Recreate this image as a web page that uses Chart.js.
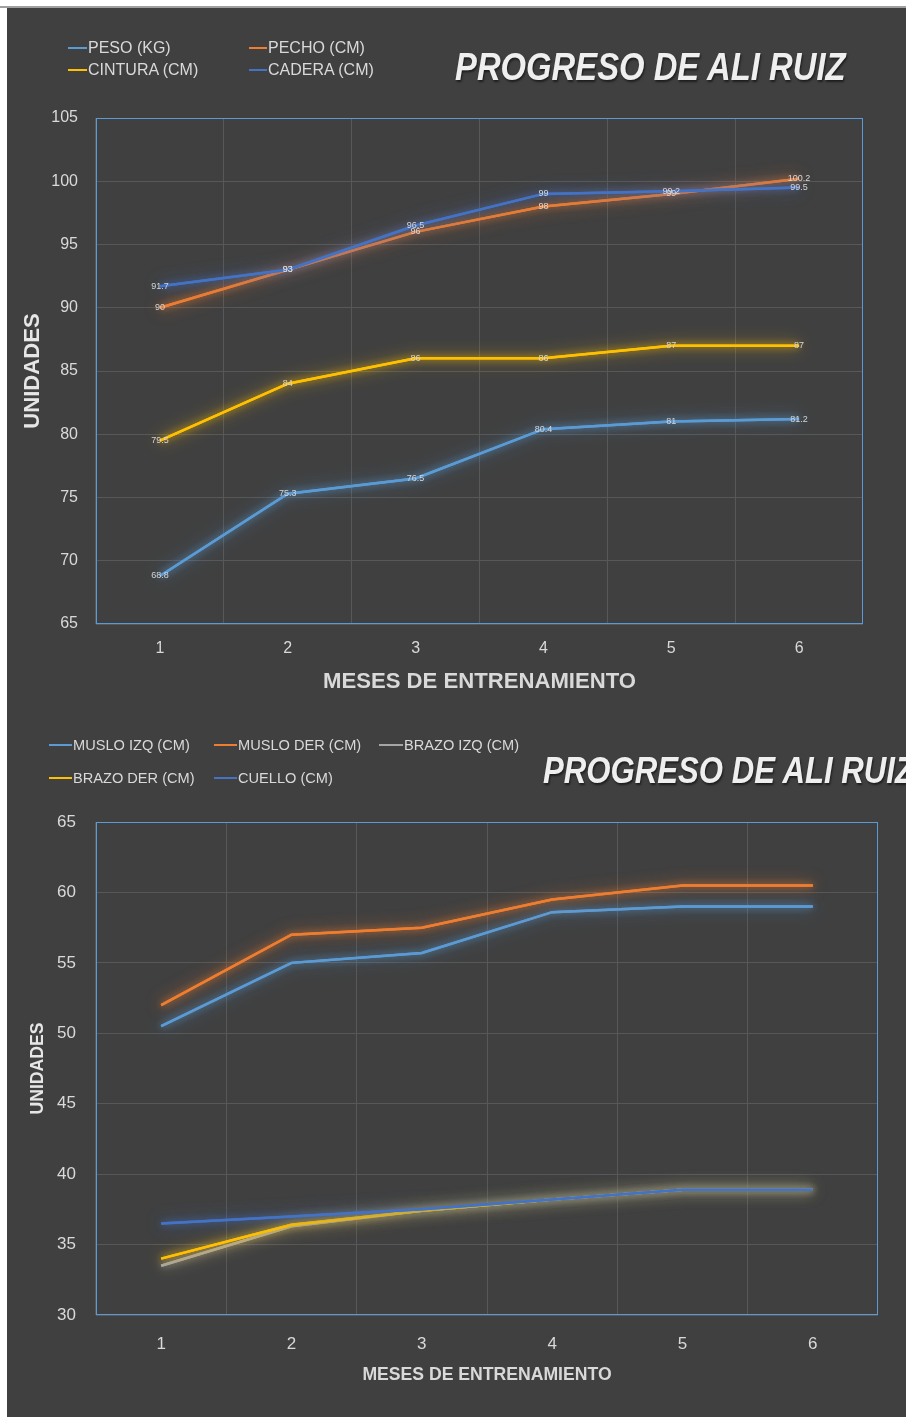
<!DOCTYPE html>
<html><head><meta charset="utf-8">
<script src="https://cdn.jsdelivr.net/npm/chart.js@4.4.0/dist/chart.umd.min.js"></script>
<style>
html,body{margin:0;padding:0;background:#fff;width:906px;height:1418px;overflow:hidden;}
.topstrip{position:absolute;left:0;top:0;width:906px;height:8px;background:#fff;border-bottom:2px solid #a0a0a0;box-sizing:border-box}
.panel{position:absolute;left:7px;width:899px;background:#404040;overflow:hidden}
#p1{top:8px;height:697px}
#p2{top:705px;height:712px}
canvas{position:absolute;left:0;top:0}
.item{position:absolute;white-space:nowrap;font-family:"Liberation Sans",Arial,sans-serif;color:#d9d9d9;line-height:20px;height:20px}
.item i{display:inline-block;width:19px;height:2px;vertical-align:middle;margin-right:1px;margin-top:-2px}
.title{position:absolute;white-space:nowrap;font-family:"Liberation Sans Narrow","Liberation Sans",Arial,sans-serif;font-weight:bold;font-style:italic;color:#efefef;text-shadow:1px 2px 2px rgba(0,0,0,0.55);line-height:1;transform-origin:0 50%}
</style>
</head><body>
<div class="topstrip"></div>
<div class="panel" id="p1">
  <canvas id="c1" width="899" height="697"></canvas>
  <div id="leg1"></div>
  <div class="title" id="t1">PROGRESO DE ALI RUIZ</div>
</div>
<div class="panel" id="p2">
  <canvas id="c2" width="899" height="712"></canvas>
  <div id="leg2"></div>
  <div class="title" id="t2">PROGRESO DE ALI RUIZ</div>
</div>
<script>
// ---- data ----
const months = ['1','2','3','4','5','6'];
const yTicks1 = [65,70,75,80,85,90,95,100,105];
const yTicks2 = [30,35,40,45,50,55,60,65];

const peso    = [68.8, 75.3, 76.5, 80.4, 81, 81.2];
const pecho   = [90, 93, 96, 98, 99, 100.2];
const cintura = [79.5, 84, 86, 86, 87, 87];
const cadera  = [91.7, 93, 96.5, 99, 99.2, 99.5];

const musloIzq = [50.5, 55, 55.7, 58.6, 59, 59];
const musloDer = [52, 57, 57.5, 59.5, 60.5, 60.5];
const brazoIzq = [33.5, 36.3, 37.4, 38.2, 38.9, 38.9];
const brazoDer = [34, 36.4, 37.4, 38.2, 38.9, 38.9];
const cuello   = [36.5, 37, 37.5, 38.2, 38.9, 38.9];

const names1 = ['PESO (KG)','PECHO (CM)','CINTURA (CM)','CADERA (CM)'];
const names2 = ['MUSLO IZQ (CM)','MUSLO DER (CM)','BRAZO IZQ (CM)','BRAZO DER (CM)','CUELLO (CM)'];
const colors1 = ['#5b9bd5','#ed7d31','#ffc000','#4472c4'];
const colors2 = ['#5b9bd5','#ed7d31','#a5a5a5','#ffc000','#4472c4'];

// ---- font detection ----
function hasFont(name){
  const c=document.createElement('canvas').getContext('2d');
  c.font='40px monospace'; const a=c.measureText('UNIDADES MESES 0123').width;
  c.font='40px "'+name+'", monospace'; const b=c.measureText('UNIDADES MESES 0123').width;
  return Math.abs(a-b)>0.5;
}
const NARROW = hasFont('Liberation Sans Narrow');
const boldFam = NARROW ? '"Liberation Sans Narrow", "Liberation Sans", Arial, sans-serif' : '"Liberation Sans", Arial, sans-serif';
const regFam = '"Liberation Sans", Arial, sans-serif';
const k = NARROW ? 1 : 0.82;

// ---- titles & legends (HTML) ----
function place(id, x, y, size){
  const el=document.getElementById(id);
  el.style.left=x+'px'; el.style.fontSize=(size*k)+'px';
  el.style.top=(y - size*k*0.5)+'px';
  if(!NARROW) el.style.transform='scaleY(1.17)';
}
place('t1', 455-7, 67-8, 40);
place('t2', 543-7, 771-705, 38);

function legend(containerId, names, colors, pos, ox, oy, fs){
  const cont=document.getElementById(containerId);
  names.forEach((n,i)=>{
    const d=document.createElement('div'); d.className='item';
    d.style.fontSize=fs+'px';
    d.style.left=(pos[i][0]-ox)+'px'; d.style.top=(pos[i][1]-oy-10)+'px';
    const m=document.createElement('i'); m.style.background=colors[i]; m.style.width=pos[i][2]+'px';
    d.appendChild(m); d.appendChild(document.createTextNode(n));
    cont.appendChild(d);
  });
}
legend('leg1', names1, colors1, [[68,48,19],[249,48,18],[68,70,19],[249,70,18]], 7, 8, 16);
legend('leg2', names2, colors2, [[49,745,23],[214,745,23],[379,745,24],[49,778,23],[214,778,23]], 7, 705, 14.6);

// ---- plugins ----
function hexA(h,a){const r=parseInt(h.slice(1,3),16),g=parseInt(h.slice(3,5),16),b=parseInt(h.slice(5,7),16);return `rgba(${r},${g},${b},${a})`;}
const glow = {
  id:'glow',
  beforeDatasetDraw(chart,args){
    const ctx=chart.ctx;
    const c=chart.data.datasets[args.index].borderColor;
    // wide soft halo pass
    ctx.save();
    ctx.shadowColor=hexA(c,0.9); ctx.shadowBlur=16; ctx.shadowOffsetX=0; ctx.shadowOffsetY=0;
    args.meta.dataset.draw(ctx, chart.chartArea);
    ctx.restore();
    // normal pass with tighter glow
    ctx.save();
    ctx.shadowColor=hexA(c,0.8); ctx.shadowBlur=7; ctx.shadowOffsetX=0; ctx.shadowOffsetY=0;
  },
  afterDatasetDraw(chart){ chart.ctx.restore(); }
};
const frame = {
  id:'frame',
  afterDraw(chart){
    const {ctx,chartArea:a}=chart; ctx.save();
    ctx.strokeStyle='#5b9bd5'; ctx.lineWidth=1;
    ctx.strokeRect(Math.round(a.left)+0.5,Math.round(a.top)+0.5,Math.round(a.right-a.left)-1,Math.round(a.bottom-a.top)-1);
    ctx.restore();
  }
};
const dataLabels = {
  id:'dataLabels',
  afterDatasetsDraw(chart,args,opts){
    if(!opts.show) return;
    const ctx=chart.ctx; ctx.save();
    ctx.font='9px '+regFam; ctx.fillStyle='#d6d6d6'; ctx.textAlign='center'; ctx.textBaseline='middle';
    chart.data.datasets.forEach((ds,i)=>{
      const meta=chart.getDatasetMeta(i);
      meta.data.forEach((pt,j)=>{ ctx.fillText(String(ds.data[j]), pt.x, pt.y); });
    });
    ctx.restore();
  }
};

function makeDatasets(names, arrays, colors){
  return names.map((n,i)=>({
    label:n, data:arrays[i], borderColor:colors[i], backgroundColor:colors[i],
    borderWidth:2.5, pointRadius:0, tension:0, fill:false, order:names.length-i
  }));
}

function makeChart(id, cfg){
  return new Chart(document.getElementById(id), {
    type:'line',
    data:{labels:months, datasets:cfg.datasets},
    plugins:[glow, frame, dataLabels],
    options:{
      responsive:false, animation:false, devicePixelRatio:1,
      layout:{padding:{left:0,top:cfg.padTop,right:cfg.padRight,bottom:0}},
      plugins:{legend:{display:false}, title:{display:false}, tooltip:{enabled:false},
        dataLabels:{show:cfg.labels}},
      scales:{
        x:{
          offset:true,
          grid:{offset:true,color:'#585858',lineWidth:1,drawTicks:false},
          border:{display:false},
          ticks:{color:'#d9d9d9',font:{family:regFam,size:cfg.tickSize},padding:cfg.xTickPad,maxRotation:0},
          title:{display:true,text:'MESES DE ENTRENAMIENTO',color:'#d9d9d9',
            font:{family:boldFam,size:cfg.titleSize*k,weight:'bold'},padding:{top:0,bottom:cfg.xTitlePad}},
          afterFit(s){ s.height=cfg.xH; }
        },
        y:{
          min:cfg.min, max:cfg.max,
          afterBuildTicks(s){ s.ticks=cfg.yTicks.map(v=>({value:v})); },
          grid:{color:'#585858',lineWidth:1,drawTicks:false},
          border:{display:false},
          ticks:{color:'#d9d9d9',font:{family:regFam,size:cfg.tickSize},padding:cfg.yTickPad},
          title:{display:true,text:'UNIDADES',color:'#e6e6e6',
            font:{family:boldFam,size:cfg.titleSize*k,weight:'bold'},padding:{top:cfg.yTitlePad,bottom:0}},
          afterFit(s){ s.width=89; }
        }
      }
    }
  });
}

makeChart('c1', {
  datasets:makeDatasets(names1,[peso,pecho,cintura,cadera],colors1),
  padTop:110, padRight:43, xH:81, min:65, max:105, yTicks:yTicks1,
  tickSize:16, titleSize:27, xTickPad:15, xTitlePad:10, yTickPad:18, yTitlePad:13, labels:true
});
makeChart('c2', {
  datasets:makeDatasets(names2,[musloIzq,musloDer,brazoIzq,brazoDer,cuello],colors2),
  padTop:117, padRight:28, xH:102, min:30, max:65, yTicks:yTicks2,
  tickSize:17, titleSize:21.5, xTickPad:19, xTitlePad:31, yTickPad:20, yTitlePad:21, labels:false
});
</script>
</body></html>
